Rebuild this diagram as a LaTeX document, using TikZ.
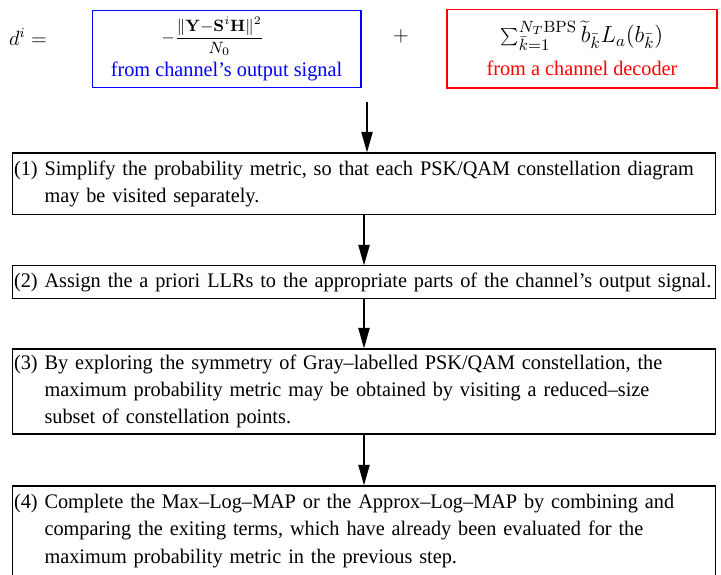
\RequirePackage{fix-cm}
\documentclass[tikz,border=0pt]{standalone}
\usepackage[no-math]{fontspec}
\setmainfont{Liberation Serif}[FakeStretch=0.98]
\usetikzlibrary{arrows.meta}

\begin{document}
\begin{tikzpicture}[x=0.58pt,y=-0.58pt,
  stepbox/.style={draw,line width=0.6pt,align=left,text width=406pt,inner xsep=1pt,
    font=\fontsize{12}{15.7}\selectfont},
  termbox/.style={draw,line width=0.6pt,align=center,inner sep=0pt,
    font=\fontsize{12}{15.7}\selectfont},
  flow/.style={-{Triangle[length=12pt,width=6.5pt]},line width=1pt}]
\useasboundingbox (0,0) rectangle (721,574);
\clip (0,0) rectangle (721,574);
\node[anchor=base,font=\fontsize{12}{15.7}\selectfont] (lhs) at (28,45) {$d^i =$};
\node[termbox,draw=blue,minimum width=156pt,minimum height=45.2pt] (chan) at (226.5,49)
  {{\fontsize{9.5}{11}\selectfont
    $\displaystyle -\frac{\|\mathbf{Y}{-}\mathbf{S}^i\mathbf{H}\|^2}{N_0}$}\hspace*{16pt}\\[3pt]
   \textcolor{blue}{from channel's output signal}};
\node[anchor=base,font=\fontsize{12}{15.7}\selectfont] (plus) at (401,41) {$+$};
\node[termbox,draw=red,minimum width=156.6pt,minimum height=45.8pt] (dec) at (582,48.5)
  {{\fontsize{13.5}{15}\selectfont
    $\sum_{\bar{k}=1}^{N_T\mathrm{BPS}}\widetilde{b}_{\bar{k}}L_a(b_{\bar{k}})$}\\[3.5pt]
   \textcolor{red}{from a channel decoder}};
\coordinate (start) at (367,102);
\node[stepbox,minimum height=35.4pt] (simplify) at (364,183.5)
  {(1) Simplify the probability metric, so that each PSK/QAM constellation diagram\\
   \hphantom{(1) }may be visited separately.};
\node[stepbox,minimum height=18.6pt] (assign) at (364,282)
  {(2) Assign the a priori LLRs to the appropriate parts of the channel's output signal.};
\node[stepbox,minimum height=49.3pt] (symmetry) at (364,391.5)
  {(3) By exploring the symmetry of Gray--labelled PSK/QAM constellation, the\\
   \hphantom{(3) }maximum probability metric may be obtained by visiting a reduced--size\\
   \hphantom{(3) }subset of constellation points.};
\node[stepbox,minimum height=52.2pt] (complete) at (364,531)
  {(4) Complete the Max--Log--MAP or the Approx--Log--MAP by combining and\\
   \hphantom{(4) }comparing the exiting terms, which have already been evaluated for the\\
   \hphantom{(4) }maximum probability metric in the previous step.};
\draw[flow] (start) -- (start |- simplify.north);
\draw[flow] (simplify) -- (assign);
\draw[flow] (assign) -- (symmetry);
\draw[flow] (symmetry) -- (complete);
\end{tikzpicture}
\end{document}
